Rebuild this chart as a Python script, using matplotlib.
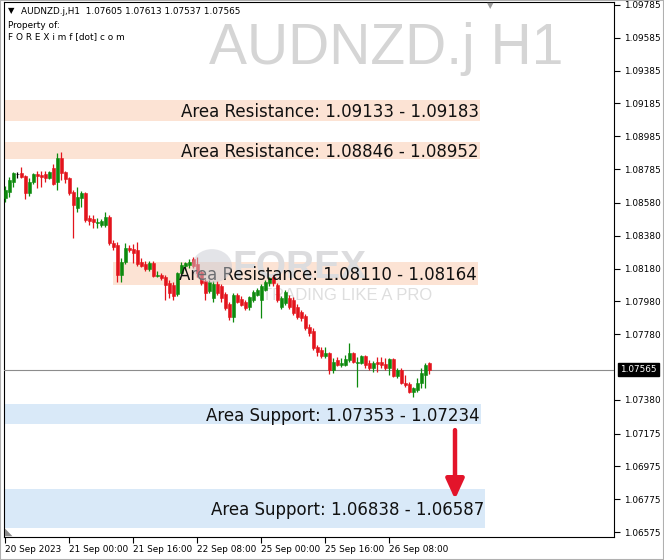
import matplotlib
matplotlib.use('Agg')
import matplotlib.pyplot as plt
import matplotlib.transforms as mtransforms
from matplotlib.patches import Rectangle, Circle

# ---------------- data (AUDNZD.j, H1) ----------------
opens = [1.08609, 1.08646, 1.08707, 1.08756, 1.08762, 1.08743, 1.08640, 1.08707, 1.08756, 1.08750,
         1.08756, 1.08731, 1.08792, 1.08707, 1.08853, 1.08768, 1.08731, 1.08646, 1.08548, 1.08609,
         1.08640, 1.08487, 1.08481, 1.08457, 1.08445, 1.08445, 1.08493, 1.08336, 1.08324, 1.08141,
         1.08220, 1.08305, 1.08299, 1.08293, 1.08220, 1.08208, 1.08177, 1.08214, 1.08135, 1.08141,
         1.08128, 1.08092, 1.08080, 1.08025, 1.08153, 1.08195, 1.08202, 1.08238, 1.08208, 1.08159,
         1.08104, 1.08043, 1.08000, 1.08086, 1.08073, 1.08025, 1.07964, 1.07884, 1.08019, 1.07994,
         1.07976, 1.07945, 1.07988, 1.08019, 1.07988, 1.08049, 1.08092, 1.08128, 1.08080, 1.07945,
         1.07970, 1.08000, 1.07988, 1.07945, 1.07915, 1.07890, 1.07823, 1.07799, 1.07702, 1.07684,
         1.07647, 1.07666, 1.07562, 1.07623, 1.07592, 1.07592, 1.07623, 1.07666, 1.07604, 1.07604,
         1.07647, 1.07604, 1.07574, 1.07610, 1.07610, 1.07598, 1.07574, 1.07629, 1.07525, 1.07562,
         1.07482, 1.07476, 1.07428, 1.07440, 1.07482, 1.07531, 1.07605]
highs = [1.08682, 1.08737, 1.08768, 1.08768, 1.08798, 1.08750, 1.08731, 1.08762, 1.08774, 1.08774,
         1.08774, 1.08774, 1.08817, 1.08884, 1.08890, 1.08774, 1.08737, 1.08658, 1.08676, 1.08652,
         1.08646, 1.08506, 1.08506, 1.08487, 1.08481, 1.08524, 1.08506, 1.08354, 1.08342, 1.08244,
         1.08336, 1.08324, 1.08330, 1.08342, 1.08244, 1.08226, 1.08226, 1.08226, 1.08165, 1.08153,
         1.08141, 1.08110, 1.08098, 1.08159, 1.08220, 1.08220, 1.08238, 1.08250, 1.08250, 1.08171,
         1.08116, 1.08110, 1.08104, 1.08104, 1.08086, 1.08037, 1.07976, 1.08031, 1.08031, 1.08012,
         1.07988, 1.08012, 1.08049, 1.08061, 1.08086, 1.08110, 1.08128, 1.08141, 1.08092, 1.08012,
         1.08049, 1.08019, 1.08006, 1.07964, 1.07927, 1.07903, 1.07842, 1.07817, 1.07714, 1.07702,
         1.07702, 1.07672, 1.07635, 1.07641, 1.07635, 1.07653, 1.07727, 1.07672, 1.07641, 1.07653,
         1.07653, 1.07623, 1.07617, 1.07641, 1.07641, 1.07635, 1.07635, 1.07635, 1.07574, 1.07574,
         1.07531, 1.07489, 1.07458, 1.07513, 1.07574, 1.07604, 1.07613]
lows = [1.08585, 1.08615, 1.08676, 1.08731, 1.08731, 1.08603, 1.08621, 1.08695, 1.08670, 1.08676,
        1.08707, 1.08725, 1.08689, 1.08658, 1.08719, 1.08701, 1.08628, 1.08366, 1.08524, 1.08554,
        1.08463, 1.08445, 1.08426, 1.08426, 1.08432, 1.08432, 1.08324, 1.08293, 1.08098, 1.08098,
        1.08208, 1.08281, 1.08214, 1.08195, 1.08189, 1.08165, 1.08165, 1.08128, 1.08128, 1.08110,
        1.07988, 1.08000, 1.07988, 1.08012, 1.08141, 1.08171, 1.08183, 1.08183, 1.08128, 1.08080,
        1.07988, 1.08031, 1.07976, 1.08019, 1.07976, 1.07927, 1.07866, 1.07854, 1.07970, 1.07951,
        1.07927, 1.07927, 1.07976, 1.08012, 1.07878, 1.08043, 1.08073, 1.08073, 1.07976, 1.07933,
        1.07958, 1.07933, 1.07897, 1.07872, 1.07860, 1.07805, 1.07768, 1.07684, 1.07647, 1.07635,
        1.07635, 1.07537, 1.07543, 1.07586, 1.07580, 1.07586, 1.07610, 1.07604, 1.07458, 1.07598,
        1.07574, 1.07562, 1.07549, 1.07549, 1.07574, 1.07562, 1.07531, 1.07519, 1.07513, 1.07476,
        1.07458, 1.07422, 1.07397, 1.07428, 1.07452, 1.07452, 1.07537]
closes = [1.08658, 1.08719, 1.08762, 1.08756, 1.08737, 1.08640, 1.08707, 1.08756, 1.08743, 1.08737,
          1.08731, 1.08768, 1.08695, 1.08853, 1.08762, 1.08725, 1.08640, 1.08567, 1.08615, 1.08640,
          1.08475, 1.08469, 1.08463, 1.08463, 1.08469, 1.08493, 1.08336, 1.08311, 1.08141, 1.08220,
          1.08305, 1.08293, 1.08275, 1.08208, 1.08195, 1.08177, 1.08214, 1.08135, 1.08141, 1.08122,
          1.08080, 1.08031, 1.08012, 1.08153, 1.08202, 1.08214, 1.08220, 1.08195, 1.08153, 1.08092,
          1.08031, 1.08098, 1.08086, 1.08031, 1.08000, 1.07939, 1.07884, 1.08019, 1.07976, 1.07958,
          1.07939, 1.08006, 1.08037, 1.08049, 1.08073, 1.08098, 1.08122, 1.08092, 1.07988, 1.08000,
          1.08037, 1.07945, 1.07909, 1.07884, 1.07878, 1.07817, 1.07787, 1.07696, 1.07672, 1.07647,
          1.07666, 1.07562, 1.07610, 1.07592, 1.07604, 1.07629, 1.07666, 1.07610, 1.07610, 1.07647,
          1.07592, 1.07574, 1.07604, 1.07598, 1.07592, 1.07574, 1.07629, 1.07525, 1.07562, 1.07482,
          1.07470, 1.07428, 1.07452, 1.07482, 1.07543, 1.07592, 1.07565]

symbol = "AUDNZD.j,H1"
watermark = "AUDNZD.j H1"
last_price = 1.07565

x_tick_bars = [0, 16, 32, 48, 64, 80, 96]
x_tick_labels = ["20 Sep 2023", "21 Sep 00:00", "21 Sep 16:00", "22 Sep 08:00",
                 "25 Sep 00:00", "25 Sep 16:00", "26 Sep 08:00"]
y_ticks = [1.09785, 1.09585, 1.09385, 1.09185, 1.08985, 1.08785, 1.08580, 1.08380,
           1.08180, 1.07980, 1.07780, 1.07380, 1.07175, 1.06975, 1.06775, 1.06575]

zone_labels = ["Area Resistance: 1.09133 - 1.09183", "Area Resistance: 1.08846 - 1.08952",
               "Area Resistance: 1.08110 - 1.08164", "Area Support: 1.07353 - 1.07234",
               "Area Support: 1.06838 - 1.06587"]
zone_lows = [1.09079, 1.08846, 1.08080, 1.07234, 1.06600]
zone_highs = [1.09206, 1.08952, 1.08220, 1.07353, 1.06838]
zone_start_bar = [-0.25, -0.25, 27.0, -0.25, -0.25]
zone_end_bar = [118.75, 118.75, 118.25, 119.0, 120.0]
zone_kind = ["res", "res", "res", "sup", "sup"]

arrow_bar = 112.5
arrow_from = 1.07196
arrow_to = 1.06775

# ---------------- style ----------------
UP = "#0d8a0d"
DOWN = "#e3141c"
RES_COLOR = "#fce3d4"
SUP_COLOR = "#d9e9f8"

W, H = 664, 560
fig = plt.figure(figsize=(W / 100, H / 100), dpi=100)
fig.patch.set_facecolor("white")

L, R, T, B = 4, 614, 2, 537
ax = fig.add_axes([L / W, (H - B) / H, (R - L) / W, (B - T) / H])
ax.set_facecolor("white")
ax.set_xlim(-0.25, 152.25)
ax.set_ylim(1.06545, 1.09803)

# zones
for lab, lo, hi, x0, x1, k in zip(zone_labels, zone_lows, zone_highs, zone_start_bar, zone_end_bar, zone_kind):
    ax.add_patch(Rectangle((x0, lo), x1 - x0, hi - lo,
                           facecolor=RES_COLOR if k == "res" else SUP_COLOR,
                           edgecolor="none", zorder=1))

# watermark logo
ax.text((563 - L) / (R - L), (B - 64) / (B - T), watermark, transform=ax.transAxes,
        ha="right", va="baseline", fontsize=41, color="#d5d5d5",
        family="Liberation Sans", zorder=2)
fig.patches.append(Circle((212 / W, 1 - 266 / H), 20 / W, transform=fig.transFigure,
                          facecolor="#c9cbd3", edgecolor="none", alpha=0.5, zorder=2))
ax.text((232 - L) / (R - L), (B - 268) / (B - T), "FOREX", transform=ax.transAxes,
        ha="left", va="center", fontsize=28, fontweight="bold", color="#dcdcde",
        family="Liberation Sans", zorder=2)
ax.text((262 - L) / (R - L), (B - 295) / (B - T), "TRADING LIKE A PRO", transform=ax.transAxes,
        ha="left", va="center", fontsize=12, color="#dedede",
        family="Liberation Sans", zorder=2)

# last price line
ax.axhline(last_price, color="#8c8c8c", linewidth=0.8, zorder=3)

# candles
for i, (o, h, l, c) in enumerate(zip(opens, highs, lows, closes)):
    if c > o:
        col = UP
    elif c < o:
        col = DOWN
    else:
        col = "black"
    ax.vlines(i, l, h, color=col, linewidth=0.9, zorder=4)
    ax.bar(i, abs(c - o), bottom=min(o, c), width=0.75, color=col,
           edgecolor=col, linewidth=0.4, zorder=5)

# zone labels
for lab, lo, hi, x1 in zip(zone_labels, zone_lows, zone_highs, zone_end_bar):
    ax.text(x1 - 0.3, (lo + hi) / 2, lab, ha="right", va="center_baseline",
            fontsize=12, color="#111111", family="DejaVu Sans", zorder=6)

# arrow
ax.annotate("", xy=(arrow_bar, arrow_to), xytext=(arrow_bar, arrow_from),
            arrowprops=dict(arrowstyle="-|>,head_length=1.2,head_width=0.55",
                            color="#e3142a", linewidth=3.2, shrinkA=0, shrinkB=0),
            zorder=7)

# axes
for s in ax.spines.values():
    s.set_color("black")
    s.set_linewidth(0.8)
ax.yaxis.tick_right()
ax.set_yticks(y_ticks)
ax.set_yticklabels([f"{v:.5f}" for v in y_ticks])
ax.tick_params(axis="y", direction="out", length=4, width=0.8, pad=3,
               labelsize=6.4, colors="black")
ax.set_xticks(x_tick_bars)
ax.set_xticklabels(x_tick_labels)
ax.tick_params(axis="x", direction="out", length=4, width=0.8, pad=2,
               labelsize=6.4, colors="black")
for t in ax.get_xticklabels():
    t.set_horizontalalignment("left")
for t in ax.get_xticklabels() + ax.get_yticklabels():
    t.set_family("DejaVu Sans")

# current price box
blend = mtransforms.blended_transform_factory(ax.transAxes, ax.transData)
ax.text(1.0 + 6 / (R - L), last_price, f"{last_price:.5f}", transform=blend,
        ha="left", va="center", fontsize=6.4, color="white", family="DejaVu Sans",
        bbox=dict(boxstyle="square,pad=0.25", facecolor="black", edgecolor="black"),
        clip_on=False, zorder=8)

# header texts
fig.text(8 / W, 1 - 11 / H, "▼", fontsize=6, ha="left", va="center", color="black")
fig.text(21 / W, 1 - 11 / H, f"{symbol}  1.07605 1.07613 1.07537 1.07565",
         fontsize=6.4, ha="left", va="center", family="DejaVu Sans")
fig.text(8 / W, 1 - 25 / H, "Property of:", fontsize=6.4, ha="left", va="center",
         family="DejaVu Sans")
fig.text(8 / W, 1 - 37 / H, "F O R E X i m f [dot] c o m", fontsize=6.4, ha="left",
         va="center", family="DejaVu Sans")

# chart-shift markers
fig.text(490 / W, 1 - 6 / H, "▼", fontsize=6, ha="center", va="center", color="#9a9a9a")
fig.text(9 / W, 1 - 532 / H, "◣", fontsize=7, ha="center", va="center", color="#8a8a8a")

# outer border
fig.patches.append(Rectangle((0, 0), 1, 1, transform=fig.transFigure, fill=False,
                             edgecolor="#b0b0b0", linewidth=1.5))

fig.savefig("out.png", dpi=100, facecolor="white")
